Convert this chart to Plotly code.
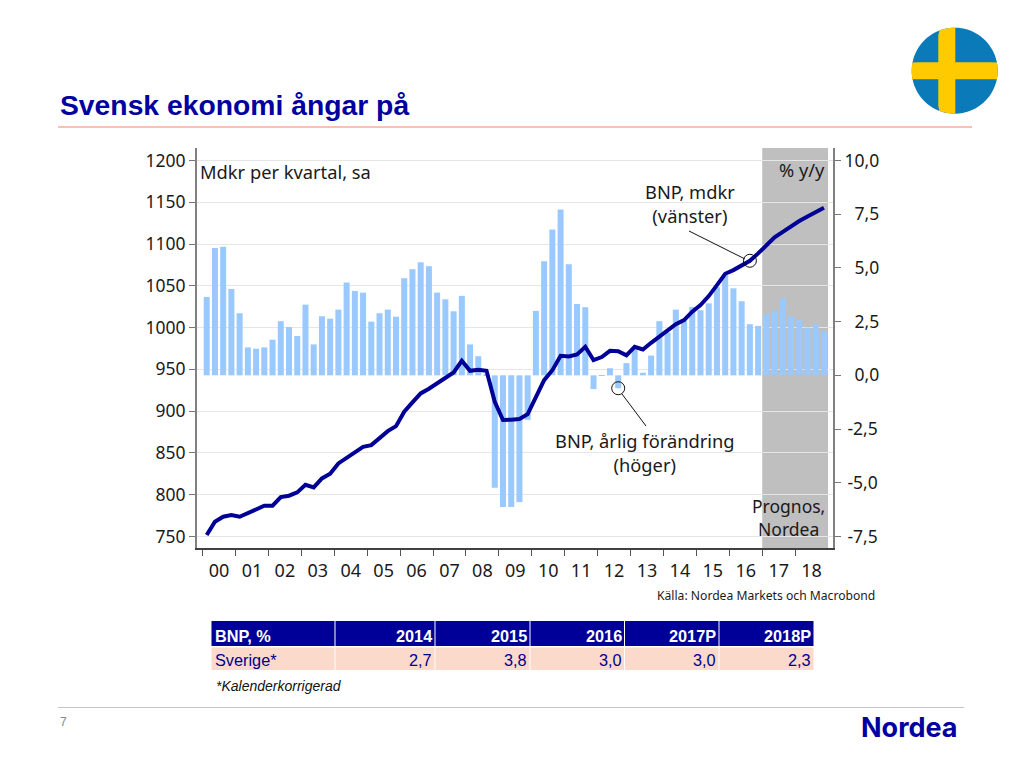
import numpy as np
import plotly.graph_objects as go

years = ["00","01","02","03","04","05","06","07","08","09","10","11","12","13","14","15","16","17","18"]
gdp_growth = [3.65,5.93,5.98,4.02, 2.89,1.30,1.24,1.30, 1.66,2.52,2.25,1.83, 3.29,1.44,2.75,2.64,
              3.06,4.32,3.93,3.85, 2.50,2.89,3.06,2.73, 4.52,4.94,5.26,5.08, 3.85,3.54,2.98,3.70,
              1.44,0.89,0.03,-5.23, -6.13,-6.13,-5.90,-2.07, 3.00,5.31,6.79,7.72, 5.17,3.32,3.17,-0.64,
              -0.03,0.33,-0.60,0.57, 1.24,0.12,0.92,2.52, 2.00,3.06,2.56,3.18, 3.03,3.35,4.10,4.66,
              4.05,3.45,2.38,2.30, 2.84,3.00,3.59,2.75, 2.56,2.22,2.36,2.05]
gdp_level = [751.6,767.6,773.5,775.5, 773.5,777.5,782.3,786.7, 786.7,797,798.7,802.7, 811.8,808.7,819.4,825,
             837.4,843.8,850,857.3, 859.3,867.3,876,882, 899.2,910.4,921.2,926.8, 933.5,940.3,946.3,960.3,
             948.3,949.5,948.3,911.2, 889.3,889.7,890.5,896.4, 917,937,949,966.3, 965.5,967.9,977,961,
             964.7,972.2,971.8,966.7, 977,973.8,981.8,989, 995.8,1004,1009,1019, 1027,1037.7,1050.8,1064.4,
             1068.8,1074.8,1080,1088.8, 1099,1108,1114.7,1121.5, 1127.5,1133,1138.6,1143.4]
left_ticks = [750,800,850,900,950,1000,1050,1100,1150,1200]
right_ticks = [-7.5,-5.0,-2.5,0.0,2.5,5.0,7.5,10.0]
right_labels = ["\u2009-7,5","\u2009-5,0","\u2009-2,5","\u20070,0","\u20072,5","\u20075,0","\u20077,5","10,0"]
table_header = ["BNP, %","2014","2015","2016","2017P","2018P"]
table_row = ["Sverige*","2,7","3,8","3,0","3,0","2,3"]

NAVY = "#000096"
BAR = "#99c9ff"
INK = "#1a1a1a"
W, H = 1024, 768
FONT = "Noto Sans"
TABLE_EDGES = [211, 335, 435, 530, 624.5, 719, 814]

def px(x): return x / W
def py(y): return 1 - y / H

q = np.arange(len(gdp_level))
year_mid = [1.5 + 4*k for k in range(len(years))]
year_edge = [-0.5 + 4*k for k in range(len(years))]

fig = go.Figure()
fig.add_trace(go.Bar(x=q, y=gdp_growth, width=0.73, marker=dict(color=BAR, line_width=0),
                     xaxis="x", yaxis="y", showlegend=False))
fig.add_trace(go.Scatter(x=q[[50]], y=[gdp_growth[50]], mode="markers", xaxis="x", yaxis="y", showlegend=False,
                         marker=dict(symbol="circle-open", size=13, color="#111", line=dict(width=1, color="#111"))))
fig.add_trace(go.Scatter(x=q, y=gdp_level, mode="lines", line=dict(color=NAVY, width=4), xaxis="x", yaxis="y2",
                         showlegend=False))
fig.add_trace(go.Scatter(x=q[[66]], y=[gdp_level[66]], mode="markers", xaxis="x", yaxis="y2", showlegend=False,
                         marker=dict(symbol="circle-open", size=13, color="#111", line=dict(width=1, color="#111"))))

shapes = [
    dict(type="rect", xref="x", yref="paper", x0=67.5, x1=75.5, y0=py(548), y1=py(148),
         fillcolor="#bfbfbf", line_width=0, layer="below"),
    dict(type="line", xref="paper", yref="paper", x0=px(58), x1=px(972), y0=py(127), y1=py(127),
         line=dict(color="#f6c3b2", width=2)),
    dict(type="line", xref="paper", yref="paper", x0=px(58), x1=px(964), y0=py(707.5), y1=py(707.5),
         line=dict(color="#c4c4c4", width=1)),
    dict(type="line", xref="paper", yref="paper", x0=px(689), x1=px(745), y0=py(231), y1=py(259),
         line=dict(color="#111", width=1)),
    dict(type="line", xref="paper", yref="paper", x0=px(622), x1=px(646), y0=py(394), y1=py(426),
         line=dict(color="#111", width=1)),
]
for t in left_ticks:
    shapes.append(dict(type="line", xref="x", yref="y2", x0=67.5, x1=75.5, y0=t, y1=t,
                       line=dict(color="#b6b6b6", width=1), layer="below"))

# flag
cx, cy, r = 954.7, 70.7, 43
ang = np.linspace(0, 2*np.pi, 90)
disc = "M" + " L".join(f"{px(cx+r*np.cos(a)):.5f},{py(cy+r*np.sin(a)):.5f}" for a in ang) + " Z"
shapes.append(dict(type="path", xref="paper", yref="paper", path=disc, fillcolor="#0a7ab8", line_width=0))
def clipped_band(x0, x1, y0, y1):
    pts = [(x0,y0),(x1,y0),(x1,y1),(x0,y1)]
    ts = np.linspace(0, 1, 12)
    out = []
    for (a,b),(c,d) in zip(pts, pts[1:]+pts[:1]):
        for t in ts:
            x, y = a+(c-a)*t, b+(d-b)*t
            dx, dy = x-cx, y-cy
            n = np.hypot(dx, dy)
            if n > r:
                x, y = cx+dx*r/n, cy+dy*r/n
            out.append((x,y))
    return "M" + " L".join(f"{px(x):.5f},{py(y):.5f}" for x,y in out) + " Z"
shapes.append(dict(type="path", xref="paper", yref="paper", path=clipped_band(938.3,955.3,cy-r,cy+r),
                   fillcolor="#ffcb00", line_width=0))
shapes.append(dict(type="path", xref="paper", yref="paper", path=clipped_band(cx-r,cx+r,62.3,79.3),
                   fillcolor="#ffcb00", line_width=0))

def note(text, x, y, anchor="center", size=18.3, color=INK, family=FONT):
    return dict(text=text, x=px(x), y=py(y), xref="paper", yref="paper", xanchor=anchor, yanchor="middle",
                showarrow=False, font=dict(family=family, size=size, color=color))

annotations = [
    note("<b>Svensk ekonomi ångar på</b>", 58, 105, "left", 28.3, "#0000a0", "Liberation Sans"),
    note("Mdkr per kvartal, sa", 198, 171, "left"),
    note("% y/y", 827, 169, "right"),
    note("BNP, mdkr<br>(vänster)", 690, 203.5),
    note("BNP, årlig förändring<br>(höger)", 644, 452.5),
    note("Prognos,<br>Nordea", 788.5, 517, "center", 17.5),
    note("Källa: Nordea Markets och Macrobond", 655, 595, "left", 12.15),
    note("<i>*Kalenderkorrigerad</i>", 214, 686, "left", 14, "#111", "Liberation Sans"),
    note("7", 63, 722, "center", 12, "#888", "Liberation Sans"),
    note("<b>Nordea</b>", 909, 727, "center", 27, "#0000a0", "Inter"),
]

# table drawn from its two rows of text
for j in range(len(table_header)):
    x0, x1 = TABLE_EDGES[j] + 0.5, TABLE_EDGES[j+1] - 0.5
    shapes.append(dict(type="rect", xref="paper", yref="paper", x0=px(x0), x1=px(x1), y0=py(646), y1=py(621),
                       fillcolor="#000099", line_width=0))
    shapes.append(dict(type="rect", xref="paper", yref="paper", x0=px(x0), x1=px(x1), y0=py(670), y1=py(647.5),
                       fillcolor="#fbd9cb", line_width=0))
    tx = x0 + 1 if j == 0 else x1 - 0.5
    anc = "left" if j == 0 else "right"
    annotations.append(note("<b>%s</b>" % table_header[j], tx, 635.5, anc, 16.3, "white", "Liberation Sans"))
    annotations.append(note(table_row[j], tx, 660, anc, 16.3, "#00008f", "Liberation Sans"))

fig.update_layout(
    width=W, height=H, autosize=False, margin=dict(l=0, r=0, t=0, b=0),
    paper_bgcolor="white", plot_bgcolor="white", showlegend=False,
    font=dict(family=FONT, size=17.5, color=INK),
    shapes=shapes, annotations=annotations,
    xaxis=dict(domain=[px(197), px(833)], range=[-1.179, 76.1], anchor="y", showgrid=False, zeroline=False,
               tickmode="array", tickvals=year_mid, ticktext=years, ticks="outside", ticklen=5,
               tickcolor="rgba(0,0,0,0)", tickfont=dict(size=18, color=INK),
               showline=True, linecolor="#404040", linewidth=2,
               minor=dict(tickmode="array", tickvals=year_edge, ticks="outside", ticklen=6, tickcolor="#555",
                          tickwidth=1, showgrid=False)),
    yaxis=dict(domain=[py(548), py(148)], range=[-8.035, 10.58], side="right", anchor="x", showgrid=False,
               zeroline=False, tickmode="array", tickvals=right_ticks, ticktext=right_labels,
               ticks="outside", ticklen=6, tickcolor="#777", tickfont=dict(size=17.5, color=INK),
               showline=True, linecolor="#808080", linewidth=2),
    yaxis2=dict(domain=[py(548), py(148)], range=[736.1, 1215], side="left", overlaying="y", anchor="x",
                showgrid=True, gridcolor="#e6e6e6", gridwidth=1, zeroline=False,
                tickmode="array", tickvals=left_ticks, ticks="outside", ticklen=6, tickcolor="#777",
                tickfont=dict(size=17.5, color=INK), showline=True, linecolor="#808080", linewidth=2),
)

fig.write_html("out.html", config=dict(displayModeBar=False), post_script="document.body.style.margin='0';")
